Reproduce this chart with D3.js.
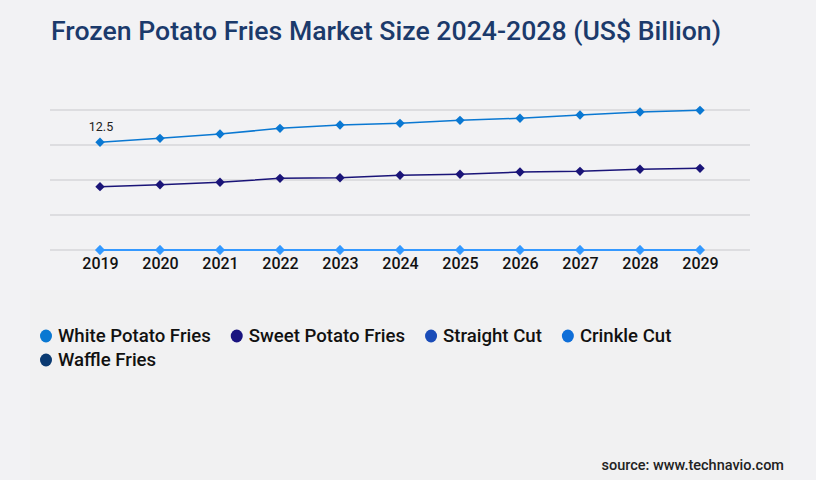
<!DOCTYPE html>
<html>
<head>
<meta charset="utf-8">
<script src="https://cdn.jsdelivr.net/npm/d3@7"></script>
<style>
  html, body { margin: 0; padding: 0; background: #f2f2f4; }
  svg { display: block; font-family: Roboto, "Noto Sans", sans-serif; }
</style>
</head>
<body>
<div id="chart"></div>
<script>
// chart values
const years = ["2019", "2020", "2021", "2022", "2023", "2024", "2025", "2026", "2027", "2028", "2029"];
const seriesNames = ["White Potato Fries", "Sweet Potato Fries", "Straight Cut", "Crinkle Cut", "Waffle Fries"];
const whitePotato = [12.5, 12.96, 13.46, 14.12, 14.51, 14.70, 15.05, 15.29, 15.67, 16.02, 16.21];
const sweetPotato = [7.35, 7.58, 7.86, 8.32, 8.39, 8.67, 8.79, 9.05, 9.13, 9.37, 9.48];
const straightCut = [0, 0, 0, 0, 0, 0, 0, 0, 0, 0, 0];
const crinkleCut  = [0, 0, 0, 0, 0, 0, 0, 0, 0, 0, 0];
const waffleFries = [0, 0, 0, 0, 0, 0, 0, 0, 0, 0, 0];
const seriesValues = [whitePotato, sweetPotato, straightCut, crinkleCut, waffleFries];
const legendColors = ["#0a78d2", "#1a1480", "#1a4cb8", "#0e6ed8", "#0a3a72"];
const lineColors   = ["#0a78d2", "#1a1478", "#3399ff", "#3399ff", "#3399ff"];
const gridTicks = [0, 4.0625, 8.125, 12.1875, 16.25];

const W = 816, H = 480;

const svg = d3.select("#chart").append("svg")
  .attr("width", W)
  .attr("height", H)
  .attr("viewBox", [0, 0, W, H]);

svg.append("rect")
  .attr("width", W).attr("height", H)
  .attr("fill", "#f2f2f4");

// faint lower panel behind the legend
svg.append("rect")
  .attr("x", 30).attr("y", 290)
  .attr("width", 760).attr("height", 190)
  .attr("fill", "#f1f1f2");

svg.append("text")
  .attr("x", 51)
  .attr("y", 40)
  .attr("fill", "#1b3a6b")
  .attr("font-size", 26)
  .attr("font-weight", 500)
  .attr("textLength", 670)
  .attr("lengthAdjust", "spacingAndGlyphs")
  .text("Frozen Potato Fries Market Size 2024-2028 (US$ Billion)");

const x = d3.scalePoint().domain(years).range([100, 700]);
const y = d3.scaleLinear().domain([0, 16.25]).range([250, 110]);

// gridlines
svg.append("g")
  .selectAll("line")
  .data(gridTicks)
  .join("line")
  .attr("x1", 50).attr("x2", 750)
  .attr("y1", d => y(d)).attr("y2", d => y(d))
  .attr("stroke", "#c8c8cc")
  .attr("stroke-width", 1);

// year labels
const xAxis = svg.append("g")
  .attr("transform", `translate(0,${y(0)})`)
  .call(d3.axisBottom(x).tickSize(0).tickPadding(8));
xAxis.select(".domain").remove();
xAxis.selectAll("text")
  .attr("font-family", "Roboto, sans-serif")
  .attr("font-size", 16)
  .attr("font-weight", 500)
  .attr("fill", "#111");

const line = d3.line()
  .x((d, i) => x(years[i]))
  .y(d => y(d));

const diamond = d3.symbol().type(d3.symbolSquare).size(44);

// draw from back to front so the zero series sit under the others
const order = [2, 3, 4, 1, 0];
order.forEach(si => {
  const g = svg.append("g");
  g.append("path")
    .datum(seriesValues[si])
    .attr("d", line)
    .attr("fill", "none")
    .attr("stroke", lineColors[si])
    .attr("stroke-width", 1.5);
  g.selectAll("path.pt")
    .data(seriesValues[si])
    .join("path")
    .attr("class", "pt")
    .attr("d", diamond)
    .attr("transform", (d, i) => `translate(${x(years[i])},${y(d)}) rotate(45)`)
    .attr("fill", lineColors[si]);
});

// value label on first point
svg.append("text")
  .attr("x", x(years[0]) + 1)
  .attr("y", y(whitePotato[0]) - 11)
  .attr("text-anchor", "middle")
  .attr("font-size", 12.5)
  .attr("fill", "#222")
  .text(whitePotato[0]);

// legend, wrapped into rows
const legend = svg.append("g");
let lx = 46, ly = 336;
const maxX = 720;
seriesNames.forEach((name, i) => {
  const item = legend.append("g");
  item.append("ellipse")
    .attr("rx", 6).attr("ry", 6.5)
    .attr("fill", legendColors[i]);
  const t = item.append("text")
    .attr("x", 12)
    .attr("y", 6)
    .attr("font-size", 18.6)
    .attr("font-weight", 500)
    .attr("fill", "#111")
    .text(name);
  const w = 12 + t.node().getComputedTextLength();
  if (lx + w > maxX) { lx = 46; ly += 24; }
  item.attr("transform", `translate(${lx},${ly})`);
  lx += w + 26;
});

svg.append("text")
  .attr("x", 784)
  .attr("y", 470)
  .attr("text-anchor", "end")
  .attr("font-size", 14.5)
  .attr("font-weight", 500)
  .attr("fill", "#222")
  .text("source: www.technavio.com");
</script>
</body>
</html>
